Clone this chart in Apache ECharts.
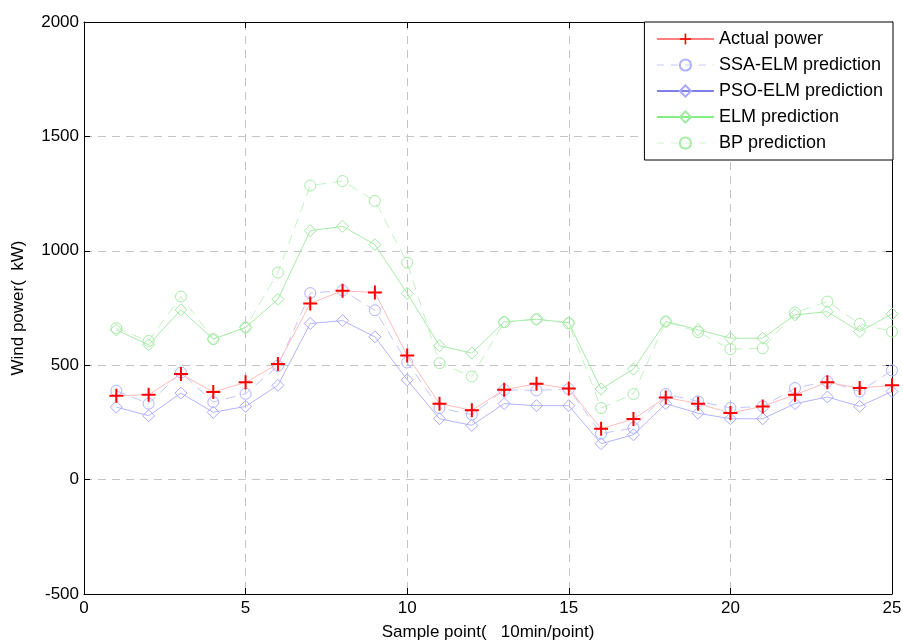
<!DOCTYPE html>
<html>
<head>
<meta charset="utf-8">
<script src="https://cdn.jsdelivr.net/npm/echarts@6/dist/echarts.min.js"></script>
<style>
  html, body { margin: 0; padding: 0; background: #fff; }
  #chart { width: 903px; height: 644px; }
</style>
</head>
<body>
<div id="chart"></div>
<script>
// --- dados ---
var samplePoints = [1,2,3,4,5,6,7,8,9,10,11,12,13,14,15,16,17,18,19,20,21,22,23,24,25];
var actualPower = [366,371,461,383,425,505,770,825,818,542,332,303,393,419,398,222,265,359,332,291,320,371,425,400,412];
var ssaElm = [388,332,468,339,375,497,815,827,740,512,313,284,392,390,396,201,226,374,342,313,320,400,429,385,477];
var psoElm = [317,279,378,294,320,412,682,695,624,436,266,237,332,323,323,157,196,332,290,266,266,332,361,320,385];
var elm = [654,589,742,614,665,788,1088,1107,1027,814,585,553,689,701,686,396,483,691,655,618,618,720,734,647,724];
var bp = [662,606,800,614,665,905,1285,1305,1218,948,509,451,688,701,683,313,374,691,645,570,574,730,778,681,647];
var seriesNames = ['Actual power', 'SSA-ELM prediction', 'PSO-ELM prediction', 'ELM prediction', 'BP prediction'];

var FONT = 'Liberation Sans, Arial, sans-serif';
var plusPath = 'path://M6,0h2v6h6v2h-6v6h-2v-6h-6v-2h6z';

function pares(valores) {
    return samplePoints.map(function (x, i) { return [x, valores[i]]; });
}

var grade = { type: [8, 6], color: '#c4c4c4', width: 1 };

var chart = echarts.init(document.getElementById('chart'), null, { renderer: 'canvas' });

var option = {
    backgroundColor: '#fff',
    animation: false,
    grid: { left: 84, right: 11, top: 22, bottom: 50, show: false, outerBoundsMode: 'none', containLabel: false },
    legend: {
        right: 10, top: 22,
        orient: 'vertical',
        backgroundColor: '#fff',
        borderColor: '#000', borderWidth: 1, borderRadius: 0,
        padding: [8, 10, 8, 12],
        itemWidth: 57, itemHeight: 14, itemGap: 8,
        textStyle: { fontFamily: FONT, fontSize: 18, color: '#000' },
        data: [
            { name: seriesNames[0], lineStyle: { color: '#ff0000', width: 1, type: 'solid' } },
            { name: seriesNames[1], lineStyle: { color: '#c8c8ff', width: 1, type: [7, 7] } },
            { name: seriesNames[2], lineStyle: { color: '#0000c8', width: 1, type: 'solid' } },
            { name: seriesNames[3], lineStyle: { color: '#00e000', width: 1, type: 'solid' } },
            { name: seriesNames[4], lineStyle: { color: '#d0f5d0', width: 1, type: [7, 7] } }
        ]
    },
    xAxis: [{
        type: 'value', min: 0, max: 25, interval: 5, position: 'bottom',
        name: 'Sample point(   10min/point)', nameLocation: 'middle', nameGap: 30,
        nameTextStyle: { fontFamily: FONT, fontSize: 17, color: '#000' },
        axisLine: { show: true, onZero: false, lineStyle: { color: '#000', width: 1 } },
        axisTick: { show: true, inside: true, length: 6, lineStyle: { color: '#000' } },
        axisLabel: { fontFamily: FONT, fontSize: 17, color: '#000', margin: 6 },
        splitLine: { show: true, lineStyle: grade }
    }, {
        type: 'value', min: 0, max: 25, interval: 5, position: 'top',
        axisLine: { show: true, onZero: false, lineStyle: { color: '#000', width: 1 } },
        axisTick: { show: true, inside: true, length: 6, lineStyle: { color: '#000' } },
        axisLabel: { show: false },
        splitLine: { show: false }
    }],
    yAxis: [{
        type: 'value', min: -500, max: 2000, interval: 500, position: 'left',
        name: 'Wind power(  kW)', nameLocation: 'middle', nameGap: 57, nameRotate: 90,
        nameTextStyle: { fontFamily: FONT, fontSize: 17, color: '#000' },
        axisLine: { show: true, onZero: false, lineStyle: { color: '#000', width: 1 } },
        axisTick: { show: true, inside: true, length: 6, lineStyle: { color: '#000' } },
        axisLabel: { fontFamily: FONT, fontSize: 17, color: '#000', margin: 5,
            formatter: function (v) { return String(v); } },
        splitLine: { show: true, lineStyle: grade }
    }, {
        type: 'value', min: -500, max: 2000, interval: 500, position: 'right',
        axisLine: { show: true, onZero: false, lineStyle: { color: '#000', width: 1 } },
        axisTick: { show: true, inside: true, length: 6, lineStyle: { color: '#000' } },
        axisLabel: { show: false },
        splitLine: { show: false }
    }],
    series: [
        {
            name: seriesNames[4], type: 'line', data: pares(bp), clip: false,
            symbol: 'circle', symbolSize: 11,
            lineStyle: { color: '#c4f2c4', width: 1, type: [10, 7] },
            itemStyle: { color: 'rgba(0,0,0,0)', borderColor: '#a8eca8', borderWidth: 1 },
            z: 2
        },
        {
            name: seriesNames[3], type: 'line', data: pares(elm), clip: false,
            symbol: 'diamond', symbolSize: 12,
            lineStyle: { color: '#a8eca8', width: 1 },
            itemStyle: { color: 'rgba(0,0,0,0)', borderColor: '#a0eaa0', borderWidth: 1 },
            z: 3
        },
        {
            name: seriesNames[2], type: 'line', data: pares(psoElm), clip: false,
            symbol: 'diamond', symbolSize: 12,
            lineStyle: { color: '#b4b4ff', width: 1 },
            itemStyle: { color: 'rgba(0,0,0,0)', borderColor: '#a8a8ff', borderWidth: 1 },
            z: 4
        },
        {
            name: seriesNames[1], type: 'line', data: pares(ssaElm), clip: false,
            symbol: 'circle', symbolSize: 11,
            lineStyle: { color: '#c4c4ff', width: 1, type: [10, 7] },
            itemStyle: { color: 'rgba(0,0,0,0)', borderColor: '#b0b0ff', borderWidth: 1 },
            z: 5
        },
        {
            name: seriesNames[0], type: 'line', data: pares(actualPower), clip: false,
            symbol: plusPath, symbolSize: 14,
            lineStyle: { color: '#ffbcbc', width: 1 },
            itemStyle: { color: '#ff0000', borderWidth: 0 },
            z: 6
        }
    ]
};
chart.setOption(option);
</script>
</body>
</html>
